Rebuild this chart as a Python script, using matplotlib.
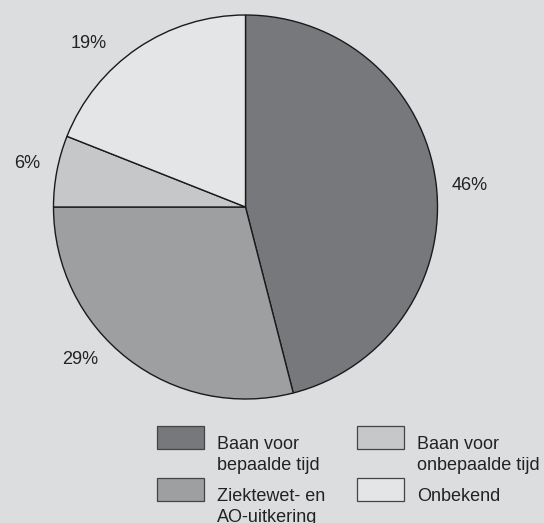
import matplotlib.pyplot as plt
from matplotlib.patches import Rectangle

plt.rcParams['font.family'] = ['Liberation Sans', 'DejaVu Sans']

# data
categories = ["Baan voor\nbepaalde tijd", "Ziektewet- en\nAO-uitkering",
              "Baan voor\nonbepaalde tijd", "Onbekend"]
shares = [46, 29, 6, 19]
colors = ['#77787c', '#9e9fa1', '#c6c7c9', '#e4e5e7']
bg = '#dcdddf'

W, H = 544, 523
fig = plt.figure(figsize=(W / 100, H / 100), dpi=100, facecolor=bg)
ax = fig.add_axes([0, 0, 1, 1])
ax.set_facecolor(bg)

# pie, drawn in pixel-like data coords (y up)
cx, cy, r = 245.5, H - 207, 192
ax.pie(shares, colors=colors, startangle=90, counterclock=False,
       center=(cx, cy), radius=r,
       wedgeprops=dict(edgecolor='#1a1a1a', linewidth=1.0))
ax.set_xlim(0, W)
ax.set_ylim(0, H)
ax.set_aspect('equal')
ax.axis('off')

# percentage labels
label_pos = [(470, 186), (80, 360), (27, 163), (89, 44)]
for v, (x, y) in zip(shares, label_pos):
    ax.text(x, H - y, f"{v}%", ha='center', va='center', fontsize=13, color='#222222')

# legend drawn by hand (boxes on top-left, two-line text beside)
leg_pos = [(157, 426), (157, 478), (357, 426), (357, 478)]
for lab, col, (bx, by) in zip(categories, colors, leg_pos):
    ax.add_patch(Rectangle((bx, H - by - 23), 47, 23, facecolor=col,
                           edgecolor='#444444', linewidth=0.9))
    for i, line in enumerate(lab.split("\n")):
        ax.text(bx + 60, H - (by + 23 + 21 * i), line, ha='left', va='baseline',
                fontsize=13, color='#222222')

fig.savefig('out.png', dpi=100, facecolor=bg)
